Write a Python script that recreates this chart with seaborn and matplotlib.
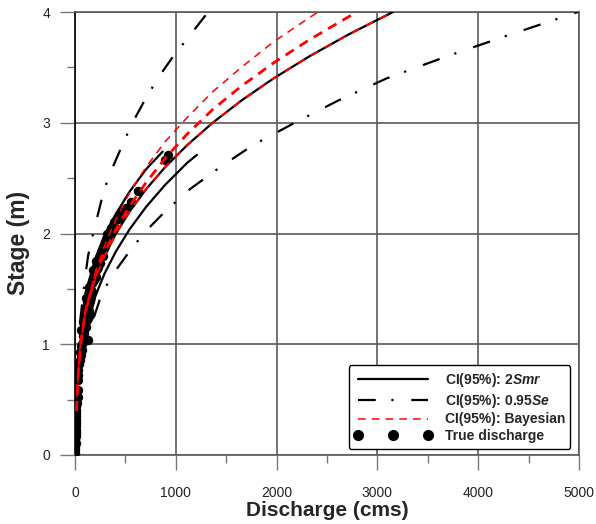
import matplotlib
matplotlib.use("Agg")
import matplotlib.pyplot as plt
from matplotlib.lines import Line2D
from matplotlib.ticker import MultipleLocator
import seaborn as sns
import pandas as pd

# ---- data (Q in cms, h in m) ----
# central rating curve (black solid, with red dashed Bayesian overlay)
central_h = [0.4, 0.7, 1.0, 1.3, 1.6, 1.8, 2.0, 2.2, 2.4, 2.6, 2.8, 3.0, 3.2, 3.4, 3.6, 3.8, 4.0]
central_q = [15, 30, 55, 105, 204, 294, 407, 543, 705, 895, 1115, 1366, 1650, 1969, 2326, 2720, 3155]

# CI(95%): 2Smr bounds (black solid)
smr_up_h = [1.15, 1.47, 1.78, 1.99, 2.18, 2.38, 2.58, 2.74]
smr_up_q = [60, 105, 204, 294, 407, 543, 705, 870]
smr_lo_h = [1.25, 1.44, 1.64, 1.84, 2.04, 2.24, 2.44, 2.64, 2.71]
smr_lo_q = [150, 204, 294, 407, 543, 705, 895, 1115, 1210]

# CI(95%): 0.95Se bounds (black dash-dot)
se_up_h = [1.2, 1.4, 1.6, 1.8, 2.0, 2.2, 2.4, 2.6, 2.8, 3.0, 3.2, 3.4, 3.6, 3.8, 4.0]
se_up_q = [50, 75, 100, 130, 180, 235, 290, 375, 470, 570, 690, 820, 975, 1150, 1320]
se_lo_h = [1.25, 1.4, 1.6, 1.8, 2.0, 2.2, 2.4, 2.6, 2.8, 3.0, 3.2, 3.4, 3.6, 3.8, 4.0]
se_lo_q = [190, 245, 350, 510, 680, 895, 1140, 1440, 1770, 2180, 2610, 3090, 3690, 4330, 4990]

# CI(95%): Bayesian bounds (red dashed)
bay_up_h = [0.4, 0.7, 1.0, 1.32, 1.66, 1.89, 2.13, 2.37, 2.6, 2.83, 3.05, 3.28, 3.5, 3.73, 3.95, 4.0]
bay_up_q = [14, 28, 50, 105, 204, 294, 407, 543, 705, 895, 1115, 1366, 1650, 1969, 2326, 2414]
bay_mid_h = [0.4, 0.7, 1.0, 1.3, 1.62, 1.83, 2.04, 2.25, 2.46, 2.68, 2.9, 3.12, 3.33, 3.54, 3.75, 3.96, 4.0]
bay_mid_q = [15, 30, 55, 105, 204, 294, 407, 543, 705, 895, 1115, 1366, 1650, 1969, 2326, 2720, 2800]

# True discharge observations
obs_h = [0.02, 0.05, 0.08, 0.11, 0.14, 0.17, 0.20, 0.23, 0.26, 0.29, 0.32, 0.35, 0.38, 0.41, 0.44,
         0.47, 0.52, 0.59, 0.68, 0.72, 0.77, 0.82, 0.86, 0.90, 0.93, 0.95, 0.98, 1.00, 1.02, 1.04,
         1.05, 1.07, 1.10, 1.12, 1.13, 1.16, 1.18, 1.20, 1.22, 1.24, 1.26, 1.29, 1.30, 1.33, 1.35,
         1.38, 1.40, 1.42, 1.45, 1.47, 1.49, 1.52, 1.55, 1.58, 1.60, 1.61, 1.65, 1.67, 1.68, 1.70,
         1.73, 1.75, 1.78, 1.80, 1.82, 1.85, 1.87, 1.89, 1.91, 1.94, 1.97, 2.00, 2.01, 2.05, 2.10,
         2.13, 2.17, 2.20, 2.23, 2.28, 2.38, 2.66, 2.71]
obs_q = [3, 4, 3, 5, 4, 6, 5, 6, 7, 6, 8, 7, 9, 10, 12,
         20, 30, 25, 30, 28, 30, 40, 50, 55, 45, 70, 60, 65, 80, 130,
         100, 80, 90, 75, 60, 110, 95, 80, 120, 130, 150, 100, 140, 115, 130,
         120, 145, 110, 150, 165, 160, 140, 170, 190, 185, 210, 200, 180, 220, 230,
         250, 205, 240, 275, 260, 280, 290, 300, 310, 315, 330, 320, 350, 360, 390,
         430, 450, 470, 510, 555, 625, 890, 920]

# ---- figure ----
sns.set_style("white")
plt.rcParams["font.family"] = ["Liberation Sans", "DejaVu Sans"]
plt.rcParams["mathtext.fontset"] = "custom"
plt.rcParams["mathtext.it"] = "Liberation Sans:bold:italic"
plt.rcParams["mathtext.rm"] = "Liberation Sans:bold"

fig = plt.figure(figsize=(5.96, 5.24), dpi=100)
ax = fig.add_axes([75 / 596, 1 - 455 / 524, 504 / 596, 443 / 524])

gridc = "#5a5a5a"
ax.set_xlim(0, 5000)
ax.set_ylim(0, 4)
ax.xaxis.set_major_locator(MultipleLocator(1000))
ax.xaxis.set_minor_locator(MultipleLocator(500))
ax.yaxis.set_major_locator(MultipleLocator(1))
ax.yaxis.set_minor_locator(MultipleLocator(0.5))
ax.grid(True, which="major", color=gridc, lw=1.2, zorder=1)
ax.set_axisbelow(True)

def line(q, h, **kw):
    df = pd.DataFrame({"Q": q, "h": h})
    sns.lineplot(data=df, x="Q", y="h", sort=False, estimator=None, ax=ax, **kw)

lw = 1.6
dd = (0, (8, 7, 1, 8))
line(central_q, central_h, color="black", lw=lw, zorder=3)
line(smr_up_q, smr_up_h, color="black", lw=lw, zorder=3)
line(smr_lo_q, smr_lo_h, color="black", lw=lw, zorder=3)
line(se_up_q, se_up_h, color="black", lw=lw, linestyle=dd, zorder=3)
line(se_lo_q, se_lo_h, color="black", lw=lw, linestyle=dd, zorder=3)

obs = pd.DataFrame({"Q": obs_q, "h": obs_h})
sns.scatterplot(data=obs, x="Q", y="h", ax=ax, color="black", s=46,
                edgecolor="black", linewidth=0, zorder=4)

line(bay_up_q, bay_up_h, color="#ff0000", lw=1.1, linestyle=(0, (5, 4)), zorder=5)
line(bay_mid_q, bay_mid_h, color="#ff0000", lw=2.0, linestyle=(0, (3.5, 2.5)), zorder=5)
line(central_q, central_h, color="#ff0000", lw=1.4, linestyle=(0, (4, 4)), zorder=5)

for s in ax.spines.values():
    s.set_color(gridc)
    s.set_linewidth(1.2)
ax.spines["left"].set_color("black")

ax.tick_params(which="major", direction="out", length=11, width=1.0, color="#777777",
               labelsize=10, labelcolor="#222222")
ax.tick_params(which="minor", direction="out", length=6, width=1.0, color="#777777")
ax.tick_params(axis="x", which="major", pad=11)
ax.tick_params(axis="y", which="major", pad=7)
ax.tick_params(left=True, bottom=True, which="both")

ax.set_xlabel("Discharge (cms)", fontsize=15, fontweight="bold", labelpad=1)
ax.set_ylabel("Stage (m)", fontsize=16.5, fontweight="bold")
ax.yaxis.set_label_coords(-0.09, 0.479)

handles = [
    Line2D([], [], color="black", lw=lw),
    Line2D([], [], color="black", lw=lw, linestyle=dd),
    Line2D([], [], color="#ff0000", lw=1.1, linestyle=(0, (5, 4))),
    Line2D([], [], color="black", marker="o", linestyle="none", markersize=7),
]
labels = ["CI(95%): 2$Smr$", "CI(95%): 0.95$Se$", "CI(95%): Bayesian", "True discharge"]
leg = ax.legend(handles, labels, loc="lower right", bbox_to_anchor=(0.983, 0.014),
                borderaxespad=0, fancybox=True, frameon=True, framealpha=1,
                edgecolor="black", handlelength=5.6, handletextpad=0.9,
                labelspacing=0.2, borderpad=0.4, numpoints=3,
                prop={"weight": "bold", "size": 10})
leg.get_frame().set_linewidth(1.0)
leg.set_zorder(10)

fig.savefig("out.png", dpi=100)
